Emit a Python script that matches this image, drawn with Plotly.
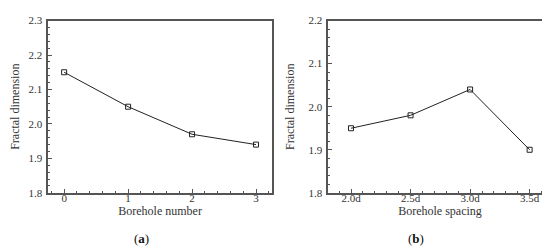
import plotly.graph_objects as go

borehole_number = [0, 1, 2, 3]
fd_number = [2.15, 2.05, 1.97, 1.94]

spacing_labels = ["2.0d", "2.5d", "3.0d", "3.5d"]
spacing_pos = [0, 1, 2, 3]
fd_spacing = [1.95, 1.98, 2.04, 1.90]

font = "Liberation Serif, Times New Roman, serif"
frame = "#555555"

fig = go.Figure()
fig.add_trace(go.Scatter(
    x=borehole_number, y=fd_number, mode="lines+markers",
    line={"color": "#222222", "width": 1},
    marker={"symbol": "square-open", "size": 5, "color": "#222222", "line": {"width": 1}},
    xaxis="x", yaxis="y", showlegend=False,
))
fig.add_trace(go.Scatter(
    x=spacing_pos, y=fd_spacing, mode="lines+markers",
    line={"color": "#222222", "width": 1},
    marker={"symbol": "square-open", "size": 5, "color": "#222222", "line": {"width": 1}},
    xaxis="x2", yaxis="y2", showlegend=False,
))

title_font = {"family": font, "size": 12, "color": "#333333"}

axis_common = dict(
    showline=True, linecolor=frame, linewidth=1.5, mirror=True,
    ticks="inside", ticklen=4, tickcolor=frame, tickwidth=1,
    showgrid=False, zeroline=False,
    tickfont={"family": font, "size": 11, "color": "#333333"},
    minor={"ticks": "inside", "ticklen": 2, "tickcolor": frame, "tickwidth": 1},
)

fig.update_layout(
    width=550, height=247,
    margin={"l": 0, "r": 0, "t": 0, "b": 0},
    plot_bgcolor="white", paper_bgcolor="white",
    font={"family": font, "size": 12, "color": "#333333"},
    xaxis=dict(axis_common, domain=[0.073, 0.48], range=[-0.25, 3.25],
               tickvals=borehole_number, anchor="y", ticklabelstandoff=-6,
               title={"text": "Borehole number", "standoff": 4, "font": title_font}),
    yaxis=dict(axis_common, domain=[0.239, 0.972], range=[1.8, 2.3],
               dtick=0.1, tickformat=".1f", anchor="x", ticklabelstandoff=2,
               title={"text": "Fractal dimension", "standoff": 11, "font": title_font}),
    xaxis2=dict(axis_common, domain=[0.582, 0.989], range=[-0.385, 3.375],
                tickvals=spacing_pos, ticktext=spacing_labels, anchor="y2", ticklabelstandoff=-6,
                title={"text": "Borehole spacing", "standoff": 4, "font": title_font}),
    yaxis2=dict(axis_common, domain=[0.239, 0.972], range=[1.8, 2.2],
                dtick=0.1, tickformat=".1f", anchor="x2", ticklabelstandoff=2,
                title={"text": "Fractal dimension", "standoff": 11, "font": title_font}),
    annotations=[
        dict(text="(<b>a</b>)", x=133 / 550, y=11 / 247, xref="paper", yref="paper",
             xanchor="center", yanchor="middle",
             showarrow=False, font={"family": font, "size": 13, "color": "#111111"}),
        dict(text="(<b>b</b>)", x=408 / 550, y=11 / 247, xref="paper", yref="paper",
             xanchor="center", yanchor="middle",
             showarrow=False, font={"family": font, "size": 13, "color": "#111111"}),
    ],
)

fig.write_html("out.html")
